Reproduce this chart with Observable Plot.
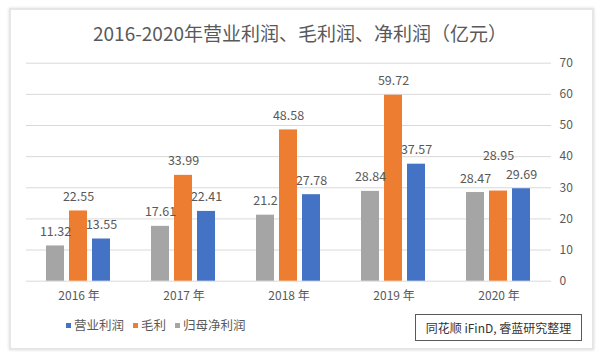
<!DOCTYPE html>
<html><head><meta charset="utf-8">
<script src="https://cdn.jsdelivr.net/npm/d3@7"></script>
<script src="https://cdn.jsdelivr.net/npm/@observablehq/plot@0.6"></script>
<style>
html,body{margin:0;padding:0;background:#fff;}
#wrap{position:relative;width:600px;height:358px;overflow:hidden;font-family:"Noto Sans CJK SC","Noto Sans",sans-serif;}
#card{position:absolute;left:9px;top:8px;width:581px;height:338px;border:2px solid #e6e6e6;box-shadow:0 0 3px #ddd;background:#fff;}
#title{position:absolute;left:0;width:600px;top:20px;text-align:center;font-size:19px;color:#595959;line-height:26px;}
#chart{position:absolute;left:0;top:0;}
#legend{position:absolute;left:66px;top:316px;font-size:12.5px;color:#595959;display:flex;gap:9px;line-height:18px;}
#legend span.sw{display:inline-block;width:5px;height:5px;margin-right:3px;vertical-align:middle;position:relative;top:-1px;}
#source{position:absolute;left:415px;top:314px;border:1px solid #595959;font-size:12px;color:#333;text-align:center;line-height:25px;box-sizing:border-box;width:167px;height:27px;}
</style></head>
<body>
<div id="wrap">
  <div id="card"></div>
  <div id="chart"></div>
  <div id="title"></div>
  <div id="legend"></div>
  <div id="source"></div>
</div>
<script>
const title = "2016-2020年营业利润、毛利润、净利润（亿元）";
const source = "同花顺 iFinD, 睿蓝研究整理";
const years = ["2016", "2017", "2018", "2019", "2020"];
const seriesOrder = ["归母净利润", "毛利", "营业利润"];
const legendOrder = ["营业利润", "毛利", "归母净利润"];
const colors = {"营业利润": "#4472C4", "毛利": "#ED7D31", "归母净利润": "#A5A5A5"};
const netProfit = [11.32, 17.61, 21.2, 28.84, 28.47];
const grossProfit = [22.55, 33.99, 48.58, 59.72, 28.95];
const operatingProfit = [13.55, 22.41, 27.78, 37.57, 29.69];
const yTicks = [0, 10, 20, 30, 40, 50, 60, 70];

const rows = [];
years.forEach((y, i) => {
  rows.push({year: y, series: "归母净利润", value: netProfit[i]});
  rows.push({year: y, series: "毛利", value: grossProfit[i]});
  rows.push({year: y, series: "营业利润", value: operatingProfit[i]});
});
// the one label the original lifts higher to avoid overlap
const lifted = d => d.year === "2020" && d.series === "毛利";

document.getElementById("title").textContent = title;
document.getElementById("source").textContent = source;
const lg = document.getElementById("legend");
legendOrder.forEach(s => {
  const item = document.createElement("div");
  item.innerHTML = `<span class="sw" style="background:${colors[s]}"></span>${s}`;
  lg.appendChild(item);
});

const chart = Plot.plot({
  width: 600,
  height: 358,
  marginLeft: 25,
  marginRight: 48,
  marginTop: 62.7,
  marginBottom: 77.3,
  style: {fontFamily: '"Noto Sans CJK SC","Noto Sans",sans-serif', fontSize: "12px", color: "#595959", background: "transparent"},
  fx: {domain: years, paddingInner: 0, paddingOuter: 0, label: null, tickSize: 0, tickPadding: 10, tickFormat: d => d + " 年", axis: "bottom"},
  x: {domain: seriesOrder, paddingInner: 0.2, paddingOuter: 0.86, axis: null},
  y: {domain: [0, 70], axis: "right", ticks: yTicks, tickSize: 0, tickPadding: 8, label: null},
  facet: {data: rows, x: "year"},
  marks: [
    Plot.ruleY(yTicks, {stroke: "#d9d9d9", strokeWidth: 1}),
    Plot.barY(rows, {x: "series", y: "value", fill: d => colors[d.series]}),
    Plot.text(rows, {filter: d => !lifted(d), x: "series", y: "value", text: d => String(d.value), dy: -14, fill: "#595959", fontSize: 12.5}),
    Plot.text(rows, {filter: lifted, x: "series", y: "value", text: d => String(d.value), dy: -35, fill: "#595959", fontSize: 12.5})
  ]
});
document.getElementById("chart").appendChild(chart);
</script>
</body></html>
